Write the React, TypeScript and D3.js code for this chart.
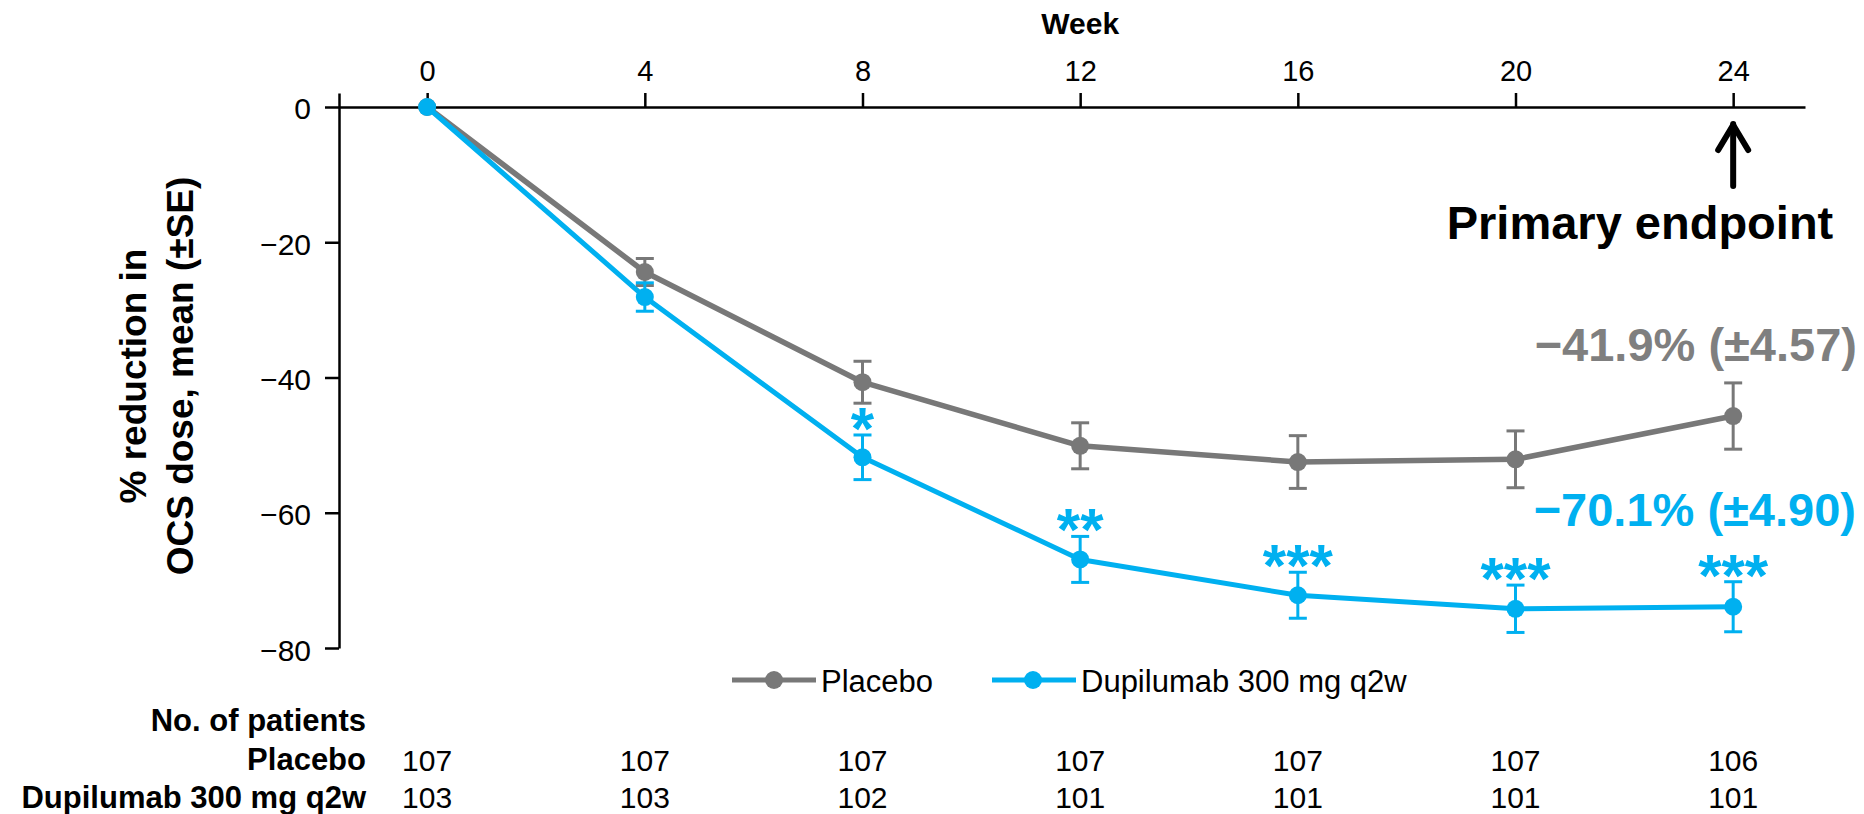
import React, { useEffect, useRef } from 'react';
import * as d3 from 'd3';

// values
const weeks = [0, 4, 8, 12, 16, 20, 24];
const placeboMean = [0, -24.4, -40.7, -50.1, -52.5, -52.1, -45.7];
const placeboSE = [0, 2.0, 3.1, 3.4, 3.9, 4.2, 4.9];
const dupiMean = [0, -28.1, -51.8, -66.9, -72.2, -74.2, -73.9];
const dupiSE = [0, 2.1, 3.3, 3.4, 3.4, 3.5, 3.7];
const dupiStars = ['', '', '*', '**', '***', '***', '***'];
const yTicks = [0, -20, -40, -60, -80];
const placeboN = [107, 107, 107, 107, 107, 107, 106];
const dupiN = [103, 103, 102, 101, 101, 101, 101];
const seriesNames = ['Placebo', 'Dupilumab 300 mg q2w'];
const endLabels = ['−41.9% (±4.57)', '−70.1% (±4.90)'];

const W = 1864;
const H = 814;
const GREY = '#787878';
const BLUE = '#00b0f0';
const FONT = '"Liberation Sans", Arial, sans-serif';

const x = d3.scaleLinear().domain([-1.62, 25.32]).range([339, 1805]);
const y = d3.scaleLinear().domain([-80, 2.07]).range([648, 93]);

const series = [
  { name: seriesNames[0], mean: placeboMean, se: placeboSE, color: GREY, width: 5.5 },
  { name: seriesNames[1], mean: dupiMean, se: dupiSE, color: BLUE, width: 5 },
];

const line = d3.line<number>()
  .x((d, i) => x(weeks[i]))
  .y((d) => y(d));

export default function App() {
  const xAxisRef = useRef<SVGGElement>(null);
  const yAxisRef = useRef<SVGGElement>(null);

  useEffect(() => {
    document.body.style.margin = '0';

    const gx = d3.select(xAxisRef.current);
    gx.selectAll('*').remove();
    gx.call(d3.axisTop(x).tickValues(weeks).tickSize(14).tickSizeOuter(0).tickPadding(12));
    gx.select('.domain').attr('stroke', '#000').attr('stroke-width', 2.5);
    gx.selectAll('.tick line').attr('stroke', '#000').attr('stroke-width', 2.5);
    gx.selectAll('.tick text')
      .attr('font-family', FONT)
      .attr('font-size', 29)
      .attr('fill', '#000');

    const gy = d3.select(yAxisRef.current);
    gy.selectAll('*').remove();
    gy.call(d3.axisLeft(y).tickValues(yTicks).tickSize(14).tickSizeOuter(0).tickPadding(14));
    gy.select('.domain').attr('stroke', '#000').attr('stroke-width', 2.5);
    gy.selectAll('.tick line').attr('stroke', '#000').attr('stroke-width', 2.5);
    gy.selectAll('.tick text')
      .attr('font-family', FONT)
      .attr('font-size', 30)
      .attr('dy', '0.4em')
      .attr('fill', '#000');
  }, []);

  const y0 = y(0);
  const arrowX = x(24);

  return (
    <svg width={W} height={H} style={{ position: 'absolute', left: 0, top: 0, display: 'block' }} fontFamily={FONT}>
      <rect width={W} height={H} fill="#fff" />

      <text x={x(12)} y={34} textAnchor="middle" fontSize={30} fontWeight="bold">Week</text>
      <g ref={xAxisRef} transform={`translate(0,${y0})`} />
      <g ref={yAxisRef} transform={`translate(${x(-1.62)},0)`} />

      <g transform="translate(146,376) rotate(-90)" fontWeight="bold" fontSize={37} textAnchor="middle">
        <text x={0} y={0}>% reduction in</text>
        <text x={0} y={47}>OCS dose, mean (±SE)</text>
      </g>

      {series.map((s) => (
        <g key={s.name}>
          <path d={line(s.mean) || ''} fill="none" stroke={s.color} strokeWidth={s.width} strokeLinejoin="round" />
          {s.mean.map((m, i) => (s.se[i] > 0 ? (
            <g key={i} stroke={s.color} strokeWidth={3}>
              <line x1={x(weeks[i])} x2={x(weeks[i])} y1={y(m + s.se[i])} y2={y(m - s.se[i])} />
              <line x1={x(weeks[i]) - 9} x2={x(weeks[i]) + 9} y1={y(m + s.se[i])} y2={y(m + s.se[i])} />
              <line x1={x(weeks[i]) - 9} x2={x(weeks[i]) + 9} y1={y(m - s.se[i])} y2={y(m - s.se[i])} />
            </g>
          ) : null))}
          {s.mean.map((m, i) => (
            <circle key={`c${i}`} cx={x(weeks[i])} cy={y(m)} r={9} fill={s.color} />
          ))}
        </g>
      ))}

      {dupiStars.map((st, i) => (st ? (
        <text key={`s${i}`} x={x(weeks[i])} y={y(dupiMean[i] + dupiSE[i]) + 14} textAnchor="middle"
          fontSize={60} fontWeight="bold" fill={BLUE}>{st}</text>
      ) : null))}

      <text x={1857} y={361} textAnchor="end" fontSize={47} fontWeight="bold" fill="#7f7f7f">{endLabels[0]}</text>
      <text x={1856} y={526} textAnchor="end" fontSize={47} fontWeight="bold" fill={BLUE}>{endLabels[1]}</text>

      <g stroke="#000" strokeWidth={6} fill="none" strokeLinecap="round" strokeLinejoin="round">
        <line x1={arrowX} x2={arrowX} y1={124} y2={186} />
        <polyline points={`${arrowX - 15},150 ${arrowX},125 ${arrowX + 15},150`} />
      </g>
      <text x={1640} y={239} textAnchor="middle" fontSize={47} fontWeight="bold">Primary endpoint</text>

      <g>
        <line x1={732} x2={816} y1={680} y2={680} stroke={GREY} strokeWidth={5} />
        <circle cx={774} cy={680} r={9} fill={GREY} />
        <text x={821} y={692} fontSize={31}>{seriesNames[0]}</text>
        <line x1={992} x2={1076} y1={680} y2={680} stroke={BLUE} strokeWidth={5} />
        <circle cx={1033} cy={680} r={9} fill={BLUE} />
        <text x={1081} y={692} fontSize={31}>{seriesNames[1]}</text>
      </g>

      <g fontWeight="bold" fontSize={31} textAnchor="end">
        <text x={366} y={731}>No. of patients</text>
        <text x={366} y={770}>{seriesNames[0]}</text>
        <text x={366} y={808}>{seriesNames[1]}</text>
      </g>
      <g fontSize={30} textAnchor="middle">
        {placeboN.map((n, i) => <text key={`p${i}`} x={x(weeks[i])} y={771}>{n}</text>)}
        {dupiN.map((n, i) => <text key={`d${i}`} x={x(weeks[i])} y={808}>{n}</text>)}
      </g>
    </svg>
  );
}
